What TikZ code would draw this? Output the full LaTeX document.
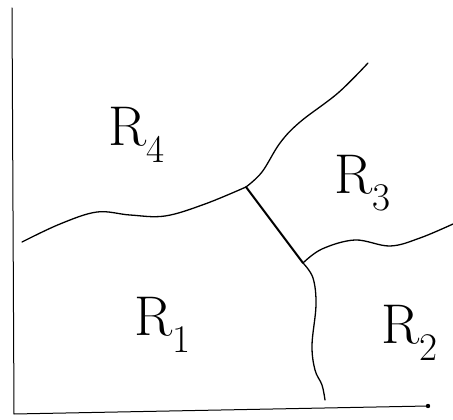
\documentclass[tikz,border=0pt]{standalone}
\usepackage{fontspec}
\usepackage{tikz}
\begin{document}
\begin{tikzpicture}[x=1pt, y=-1pt,
    axis/.style={line width=1pt, line cap=round},
    edge/.style={line width=1.3pt, line cap=round, line join=round},
    ridge/.style={line width=2pt, line cap=round},
    region/.style={font=\fontsize{56}{60}\selectfont, inner sep=0pt}
  ]
  \useasboundingbox (0,0) rectangle (453,420);

  % axes
  \coordinate (origin) at (14,414);
  \coordinate (ytop) at (12,8);
  \coordinate (xend) at (428,406);
  \draw[axis] (ytop) -- (origin) -- (xend);
  \fill (xend) circle (2.2);

  % junctions
  \coordinate (jA) at (246,187);
  \coordinate (jB) at (303,263);

  % boundaries
  \draw[edge] plot[smooth, tension=0.6] coordinates
    {(22,242) (60,224) (97,212) (130,215) (165,216) (205,204) (246,187)};
  \draw[edge] plot[smooth, tension=0.6] coordinates
    {(246,187) (262,172) (280,143) (300,122) (338,93) (368,63)};
  \draw[ridge] (jA) -- (jB);
  \draw[edge] plot[smooth, tension=0.6] coordinates
    {(303,263) (322,249) (355,240) (390,246) (420,238) (453,224)};
  \draw[edge] plot[smooth, tension=0.6] coordinates
    {(303,263) (313,278) (316,305) (312,345) (315,370) (322,385) (325,400)};

  % labels
  \node[region] (rfour) at (137,135) {R\textsubscript{4}};
  \node[region] (rthree) at (363,183) {R\textsubscript{3}};
  \node[region] (rone) at (163,325) {R\textsubscript{1}};
  \node[region] (rtwo) at (410,333) {R\textsubscript{2}};
\end{tikzpicture}
\end{document}
